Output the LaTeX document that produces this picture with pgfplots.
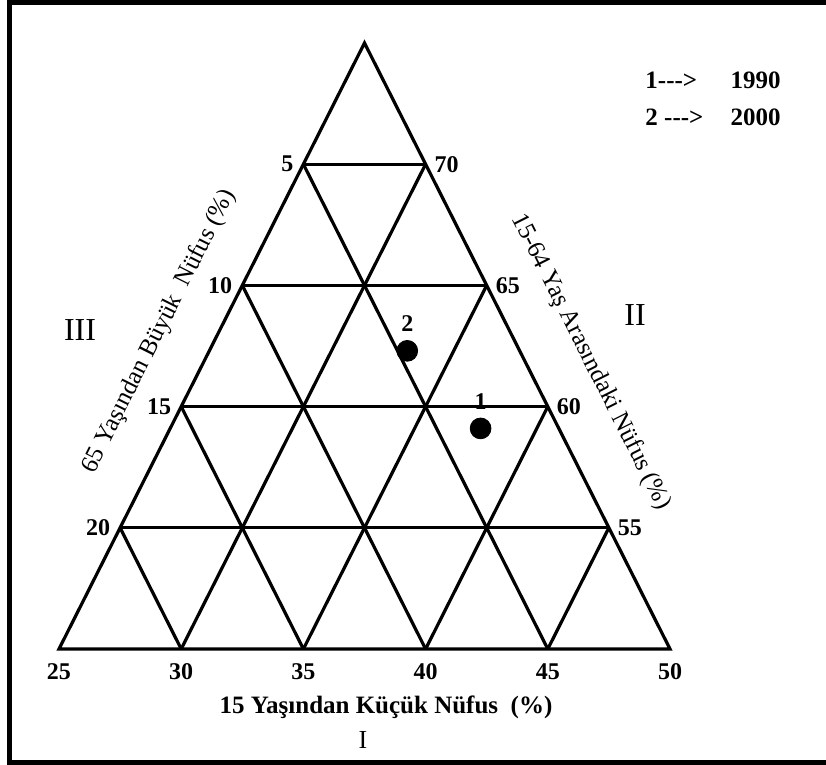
\documentclass[border=0pt]{standalone}
\usepackage{fontspec}
\setmainfont{Liberation Serif}
\usepackage{pgfplots}
\pgfplotsset{compat=1.18}
\usepackage{pgfplotstable}

% I: 15 yasindan kucuk, II: 15-64, III: 65 ve ustu (%)
\pgfplotstableread{
yil  I     II    III  lab
1990 37.7  59.1  3.2  1
2000 33.1  62.3  4.6  2
}\nufus

\tikzset{tk/.style={font=\bfseries\fontsize{12}{14}\selectfont},
         lg/.style={font=\bfseries\fontsize{12.5}{15}\selectfont, inner sep=0pt, anchor=west}}

\begin{document}
\begin{tikzpicture}
\useasboundingbox (-29.5pt,-58pt) rectangle (383.5pt,324.5pt);
\draw[line width=2.5pt] (383.5pt,323.25pt) -- (-24.75pt,323.25pt) -- (-24.75pt,-56.75pt) -- (383.5pt,-56.75pt);
\begin{axis}[
    at={(0,0)}, anchor=south west,
    scale only axis, width=305.5pt, height=303pt,
    xmin=25, xmax=50, ymin=0, ymax=25,
    hide axis, clip=false,
    unbounded coords=jump,
]
% dis ucgen
\addplot[black, line width=1.6pt, line join=miter] coordinates {(25,0) (50,0) (37.5,25) (25,0) (50,0)};
% yatay (II sabit)
\addplot[black, line width=1.6pt] coordinates {
    (27.5,5) (47.5,5) (nan,nan)
    (30,10) (45,10) (nan,nan)
    (32.5,15) (42.5,15) (nan,nan)
    (35,20) (40,20)};
% I sabit
\addplot[black, line width=1.6pt] coordinates {
    (30,0) (40,20) (nan,nan)
    (35,0) (42.5,15) (nan,nan)
    (40,0) (45,10) (nan,nan)
    (45,0) (47.5,5)};
% III sabit
\addplot[black, line width=1.6pt] coordinates {
    (30,0) (27.5,5) (nan,nan)
    (35,0) (30,10) (nan,nan)
    (40,0) (32.5,15) (nan,nan)
    (45,0) (35,20)};

\addplot[only marks, mark=*, mark size=5.2pt, black,
    nodes near coords, point meta=explicit symbolic,
    every node near coord/.append style={font=\bfseries\fontsize{12}{14}\selectfont, yshift=6pt}]
    table[x expr=\thisrow{I}+(\thisrow{II}-50)/2, y expr=\thisrow{II}-50, meta=lab] {\nufus};

% eksen sayilari
\node[tk] at (axis cs:25,-0.95) {25};
\node[tk] at (axis cs:30,-0.95) {30};
\node[tk] at (axis cs:35,-0.95) {35};
\node[tk] at (axis cs:40,-0.95) {40};
\node[tk] at (axis cs:45,-0.95) {45};
\node[tk] at (axis cs:50,-0.95) {50};
\node[tk, anchor=east, xshift=-1.5pt] at (axis cs:27.5,5) {20};
\node[tk, anchor=east, xshift=-1.5pt] at (axis cs:30,10) {15};
\node[tk, anchor=east, xshift=-1.5pt] at (axis cs:32.5,15) {10};
\node[tk, anchor=east, xshift=-1.5pt] at (axis cs:35,20) {5};
\node[tk, anchor=west, xshift=1pt] at (axis cs:47.5,5) {55};
\node[tk, anchor=west, xshift=1pt] at (axis cs:45,10) {60};
\node[tk, anchor=west, xshift=1pt] at (axis cs:42.5,15) {65};
\node[tk, anchor=west, xshift=1pt] at (axis cs:40,20) {70};

% eksen basliklari
\node[rotate=63.3, font=\fontsize{12.5}{15}\selectfont] at (axis cs:29.10,13.10) {65 Yaşından Büyük\ \ Nüfus (\%)};
\node[rotate=-63.3, font=\fontsize{12.5}{15}\selectfont] at (axis cs:46.75,11.85) {15-64 Yaş Arasındaki Nüfus (\%)};
\node[font=\bfseries\fontsize{12.5}{15}\selectfont] at (axis cs:38.38,-2.39) {15 Yaşından Küçük Nüfus\ \ (\%)};
\node[font=\fontsize{16}{18}\selectfont] at (axis cs:25.86,13.16) {III};
\node[font=\fontsize{16}{18}\selectfont] at (axis cs:48.57,13.78) {II};
\node[font=\fontsize{13}{15}\selectfont] at (axis cs:37.44,-3.75) {I};

% aciklama
\node[lg] at (axis cs:48.98,23.47) {1{-}{-}{-}>};
\node[lg] at (axis cs:52.46,23.47) {1990};
\node[lg] at (axis cs:48.98,21.95) {2 {-}{-}{-}>};
\node[lg] at (axis cs:52.46,21.95) {2000};
\end{axis}
\end{tikzpicture}
\end{document}
